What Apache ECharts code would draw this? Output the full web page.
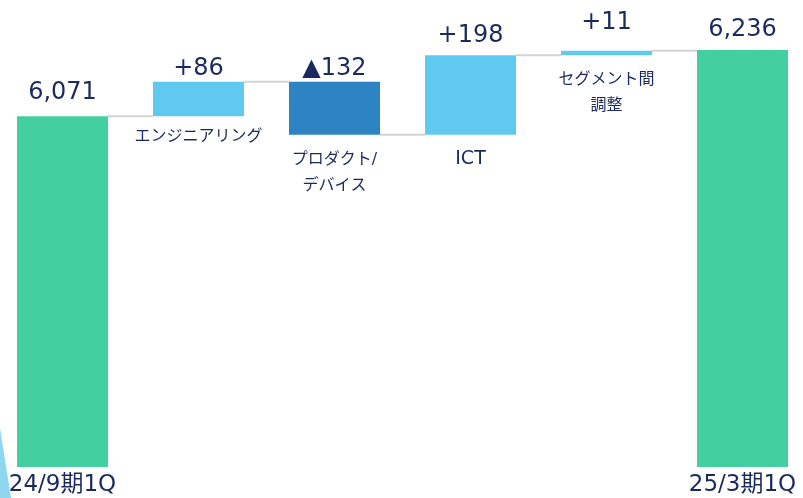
<!DOCTYPE html>
<html>
<head>
<meta charset="UTF-8">
<title>waterfall</title>
<script src="https://cdn.jsdelivr.net/npm/echarts@6/dist/echarts.min.js"></script>
<style>
html,body{margin:0;padding:0;background:#fff;}
#main{width:803px;height:498px;}
</style>
</head>
<body>
<div id="main"></div>
<script type="text/javascript">
// data
var categories = ['24/9期1Q', 'エンジニアリング', 'プロダクト/\nデバイス', 'ICT', 'セグメント間\n調整', '25/3期1Q'];
var values = [6071, 86, -132, 198, 11, 6236];
var isTotal = [true, false, false, false, false, true];
var valueLabels = ['6,071', '+86', '▲132', '+198', '+11', '6,236'];

// styles
var navy = '#1b2a5e';
var barColors = ['#43cfa0', '#5fc9ef', '#2e83c2', '#5fc9ef', '#5fc9ef', '#43cfa0'];
var topGap = [12, 1, 1, 7, 16, 8];
var nameGap = [0, 7, 12, 11, 12, 0];
var nameSize = [16, 16, 16, 19, 16, 16];
var barW = 91;

// build waterfall
var base = [], shown = [], levels = [];
var run = 0;
for (var i = 0; i < values.length; i++) {
	if (isTotal[i]) {
		base.push(0);
		shown.push(values[i]);
		run = values[i];
	} else {
		var next = run + values[i];
		base.push(Math.min(run, next));
		shown.push(Math.abs(values[i]));
		run = next;
	}
	levels.push(run);
}
var connectors = [];
for (var j = 0; j < values.length - 1; j++) {
	connectors.push([j, levels[j]]);
}

var chart = echarts.init(document.getElementById('main'));
var font = '"DejaVu Sans", "Noto Sans CJK JP", sans-serif';

var option = {
	animation: false,
	grid: {left: 62.5, right: 60.5, top: 0, bottom: 31},
	xAxis: {
		type: 'category',
		boundaryGap: false,
		data: categories,
		axisLine: {show: false},
		axisTick: {show: false},
		axisLabel: {
			color: navy,
			fontSize: 23,
			fontFamily: font,
			margin: 7,
			interval: 0,
			formatter: function (v, idx) { return isTotal[idx] ? v : ''; }
		}
	},
	yAxis: {
		type: 'value',
		min: 5200,
		max: 6360,
		show: false,
		splitLine: {show: false}
	},
	graphic: [{
		type: 'polygon',
		shape: {points: [[0, 428], [11, 498], [0, 498]]},
		style: {fill: '#8fd6ef'}
	}],
	series: [
		{
			type: 'custom',
			z: 1,
			clip: false,
			data: connectors,
			renderItem: function (params, api) {
				var p = api.coord([api.value(0), api.value(1)]);
				var q = api.coord([api.value(0) + 1, api.value(1)]);
				return {
					type: 'line',
					shape: {x1: p[0] + barW / 2, y1: p[1], x2: q[0] - barW / 2, y2: p[1]},
					style: {stroke: '#d3d3d3', lineWidth: 2}
				};
			}
		},
		{
			type: 'bar',
			stack: 'w',
			barWidth: barW,
			z: 2,
			itemStyle: {color: 'transparent'},
			data: base.map(function (v, k) {
				return {
					value: v,
					label: {
						show: !isTotal[k],
						position: 'insideTop',
						distance: nameGap[k],
						formatter: categories[k],
						color: navy,
						fontSize: nameSize[k],
						lineHeight: 26,
						fontFamily: font
					}
				};
			})
		},
		{
			type: 'bar',
			stack: 'w',
			barWidth: barW,
			z: 3,
			data: shown.map(function (v, k) {
				return {
					value: v,
					itemStyle: {color: barColors[k]},
					label: {
						show: true,
						position: 'top',
						distance: topGap[k],
						formatter: valueLabels[k],
						color: navy,
						fontSize: 24,
						fontFamily: font
					}
				};
			})
		}
	]
};
chart.setOption(option);
</script>
</body>
</html>
